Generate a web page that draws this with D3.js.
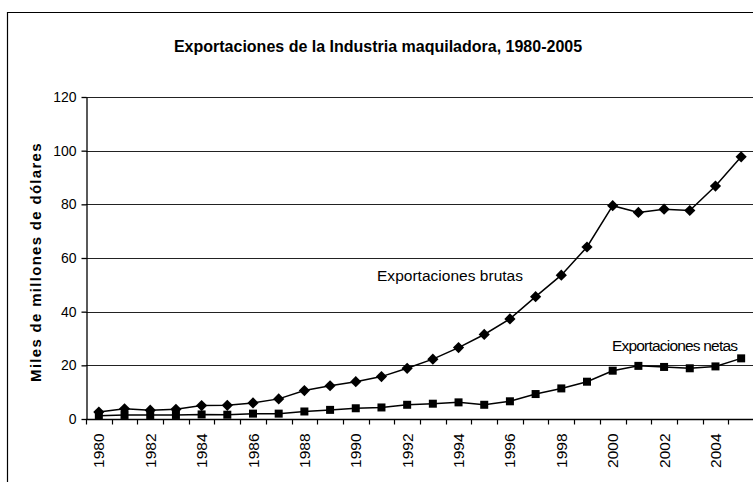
<!DOCTYPE html>
<html lang="es">
<head>
<meta charset="utf-8">
<title>Exportaciones de la Industria maquiladora</title>
<script src="https://d3js.org/d3.v7.min.js"></script>
<style>
  html, body { margin: 0; background: #fff; overflow: hidden; }
  svg { display: block; font-family: "Liberation Sans", Arial, sans-serif; }
</style>
</head>
<body>
<div id="chart"></div>
<script>
// years on the category axis
const years = d3.range(1980, 2006);
// billions of dollars
const brutas = [2.6, 3.8, 3.3, 3.6, 5.0, 5.1, 6.0, 7.5, 10.6, 12.4, 13.9, 15.8, 18.9, 22.3, 26.6,
                31.5, 37.3, 45.6, 53.6, 64.1, 79.5, 77.0, 78.2, 77.7, 86.8, 97.7];
const netas = [1.2, 1.5, 1.5, 1.5, 1.7, 1.6, 2.0, 2.0, 2.8, 3.4, 4.0, 4.3, 5.3, 5.7, 6.2,
               5.3, 6.6, 9.3, 11.4, 13.9, 18.0, 19.8, 19.4, 18.9, 19.6, 22.6];
const yTicks = [0, 20, 40, 60, 80, 100, 120];
const yearLabels = years.filter(y => y % 2 === 0);

const width = 753, height = 482;
const margin = {top: 97, right: -1, bottom: 60, left: 86};

const svg = d3.select("#chart").append("svg")
  .attr("width", width)
  .attr("height", height);

// outer chart frame (runs off the right and bottom of the picture)
svg.append("path")
  .attr("d", `M7.5,${height}V12.5H${width}`)
  .attr("fill", "none").attr("stroke", "#000").attr("stroke-width", 1.2);

const x = d3.scaleBand()
  .domain(years)
  .range([margin.left, width - margin.right]);

const y = d3.scaleLinear()
  .domain([0, 120])
  .range([height - margin.bottom - 3, margin.top]);

// gridlines
svg.append("g")
  .selectAll("line")
  .data(yTicks.slice(1))
  .join("line")
    .attr("x1", margin.left).attr("x2", width)
    .attr("y1", d => Math.round(y(d)) + 0.5).attr("y2", d => Math.round(y(d)) + 0.5)
    .attr("stroke", "#222").attr("stroke-width", 1);

// y axis
svg.append("g")
  .attr("transform", `translate(${margin.left + 0.5},0)`)
  .call(d3.axisLeft(y).tickValues(yTicks).tickSize(5).tickPadding(5).tickSizeOuter(0))
  .call(g => g.selectAll("text").attr("font-size", 14).attr("fill", "#000").attr("font-family", null))
  .call(g => g.selectAll("line, path").attr("stroke", "#000").attr("stroke-width", 1.3));

// x axis: ticks between categories
const xg = svg.append("g")
  .attr("transform", `translate(0,${Math.round(y(0)) + 0.5})`);
xg.append("line")
  .attr("x1", margin.left).attr("x2", width)
  .attr("stroke", "#000").attr("stroke-width", 1.3);
xg.selectAll("line.tick")
  .data(years)
  .join("line")
    .attr("class", "tick")
    .attr("x1", d => Math.round(x(d)) + 0.5).attr("x2", d => Math.round(x(d)) + 0.5)
    .attr("y1", 0).attr("y2", 5)
    .attr("stroke", "#000").attr("stroke-width", 1.2);
xg.selectAll("text")
  .data(yearLabels)
  .join("text")
    .attr("transform", d => `translate(${x(d) + x.bandwidth() / 2 + 5.5},14) rotate(-90)`)
    .attr("text-anchor", "end")
    .attr("font-size", 15.5)
    .attr("fill", "#000")
    .text(d => d);

// series lines
const line = data => d3.line()
  .x((d, i) => x(years[i]) + x.bandwidth() / 2)
  .y(d => y(d))(data);

svg.append("path")
  .attr("d", line(brutas))
  .attr("fill", "none").attr("stroke", "#000").attr("stroke-width", 1.5);
svg.append("path")
  .attr("d", line(netas))
  .attr("fill", "none").attr("stroke", "#000").attr("stroke-width", 1.5);

// markers
svg.append("g")
  .selectAll("path")
  .data(brutas)
  .join("path")
    .attr("transform", (d, i) => `translate(${x(years[i]) + x.bandwidth() / 2},${y(d)})`)
    .attr("d", d3.symbol(d3.symbolDiamond2, 80))
    .attr("fill", "#000");
svg.append("g")
  .selectAll("rect")
  .data(netas)
  .join("rect")
    .attr("x", (d, i) => x(years[i]) + x.bandwidth() / 2 - 4)
    .attr("y", d => y(d) - 4)
    .attr("width", 8).attr("height", 8)
    .attr("fill", "#000");

// series labels
svg.append("text")
  .attr("x", 377).attr("y", 281)
  .attr("font-size", 15.5)
  .attr("textLength", 146)
  .text("Exportaciones brutas");
svg.append("text")
  .attr("x", 612).attr("y", 351)
  .attr("font-size", 15.5)
  .attr("textLength", 126)
  .text("Exportaciones netas");

// title
svg.append("text")
  .attr("x", 378).attr("y", 52)
  .attr("text-anchor", "middle")
  .attr("font-size", 16).attr("font-weight", "bold")
  .text("Exportaciones de la Industria maquiladora, 1980-2005");

// y axis title
svg.append("text")
  .attr("transform", "translate(41,262) rotate(-90)")
  .attr("text-anchor", "middle")
  .attr("font-size", 15).attr("font-weight", "bold")
  .attr("letter-spacing", 1.3)
  .text("Miles de millones de dólares");
</script>
</body>
</html>
